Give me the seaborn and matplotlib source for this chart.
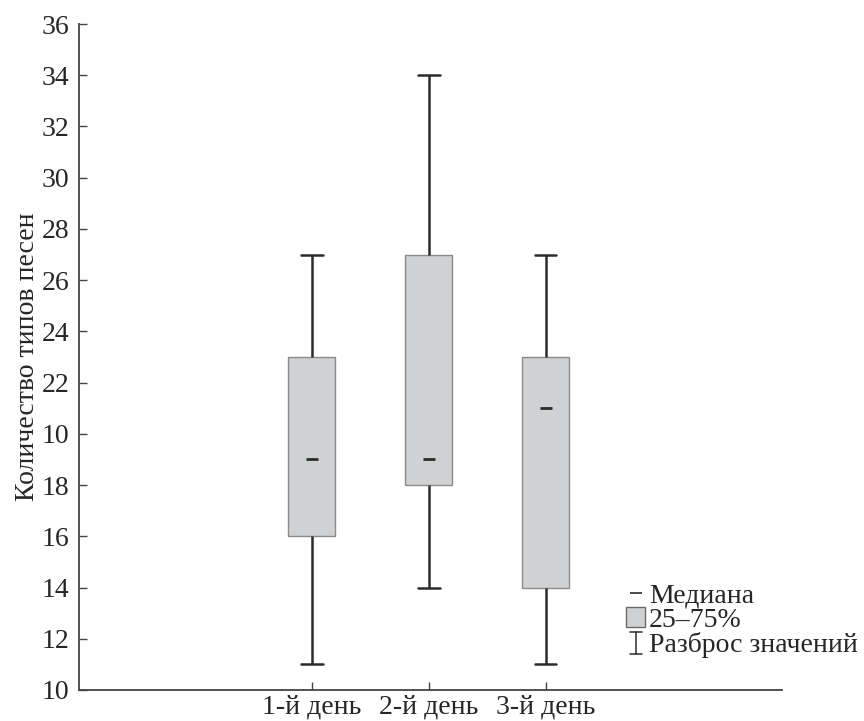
import pandas as pd
import seaborn as sns
import matplotlib.pyplot as plt
from matplotlib.lines import Line2D
from matplotlib.patches import Patch
from matplotlib.legend_handler import HandlerBase

# values: whisker ends, box edges and medians
days = ['1-й день', '2-й день', '3-й день']
mins = [11, 14, 11]
q1 = [16, 18, 14]
medians = [19, 19, 21]
q3 = [23, 27, 23]
maxs = [27, 34, 27]

yticks = [10, 12, 14, 16, 18, 20, 22, 24, 26, 28, 30, 32, 34, 36]
ytick_labels = ['10', '12', '14', '16', '18', '10', '22', '24',
                '26', '28', '30', '32', '34', '36']  # "10" at 20 is as in the original

legend_labels = ['Медиана', '25–75%', 'Разброс значений']

# five-number summary as observations -> exact quartiles with whis=(0, 100)
rows = []
for d, a, b, m, c, e in zip(days, mins, q1, medians, q3, maxs):
    for v in (a, b, m, c, e):
        rows.append({'day': d, 'value': v})
df = pd.DataFrame(rows)

sns.set_style('ticks')
plt.rcParams['font.family'] = ['Liberation Serif', 'DejaVu Serif']

box_fill = '#d0d1d3'
box_edge = '#8a8a8a'
line_col = '#2b2b2b'
FS = 20

fig = plt.figure(figsize=(8.64, 7.21), dpi=100)
ax = fig.add_axes([0.0914, 0.043, 0.8136, 0.9237])

sns.boxplot(data=df, x='day', y='value', order=days, width=0.4,
            whis=(0, 100), showfliers=False, color=box_fill, saturation=1,
            linecolor=line_col, capwidths=0.185,
            boxprops=dict(facecolor=box_fill, edgecolor=box_edge, linewidth=1.0),
            whiskerprops=dict(color=line_col, linewidth=1.8),
            capprops=dict(color=line_col, linewidth=1.8),
            medianprops=dict(visible=False), ax=ax)

# short median dashes
sns.pointplot(x=days, y=medians, order=days, color=line_col, markers='_',
              linestyle='none', errorbar=None, markersize=9,
              markeredgewidth=2.0, ax=ax)

ax.set_xlim(-1.99, 4.02)
ax.set_ylim(10, 36)
ax.set_yticks(yticks)
ax.set_yticklabels(ytick_labels)
ax.set_xlabel('')
ax.set_ylabel('Количество типов песен', fontsize=FS, labelpad=1)
ax.tick_params(axis='y', direction='in', length=6, width=1, pad=7,
               labelsize=FS, color='#444444')
ax.tick_params(axis='x', direction='in', length=6, width=1, pad=3,
               labelsize=FS, color='#444444')
sns.despine(ax=ax)
for s in ('left', 'bottom'):
    ax.spines[s].set_color('#444444')
    ax.spines[s].set_linewidth(1.3)


class IBeamHandler(HandlerBase):
    def create_artists(self, legend, orig_handle, xdescent, ydescent,
                       width, height, fontsize, trans):
        cx = -xdescent + width / 2
        y0 = -ydescent - 0.1 * height
        y1 = -ydescent + 1.05 * height
        hw = 0.3 * width
        kw = dict(color=line_col, linewidth=1.1, transform=trans)
        return [Line2D([cx, cx], [y0, y1], **kw),
                Line2D([cx - hw, cx + hw], [y0, y0], **kw),
                Line2D([cx - hw, cx + hw], [y1, y1], **kw)]


med_handle = Line2D([], [], color=line_col, marker='_', linestyle='none',
                    markersize=8, markeredgewidth=1.2)
box_handle = Patch(facecolor=box_fill, edgecolor='#6a6a6a', linewidth=1)
beam_handle = object()

fig.legend([med_handle, box_handle, beam_handle], legend_labels,
           handler_map={beam_handle: IBeamHandler()},
           loc='lower left', bbox_to_anchor=(626 / 864, 63 / 721),
           frameon=False, fontsize=FS, borderpad=0, borderaxespad=0,
           handlelength=0.7, handleheight=0.7, handletextpad=0.12,
           labelspacing=-0.03)

fig.savefig('out.png', dpi=100)
